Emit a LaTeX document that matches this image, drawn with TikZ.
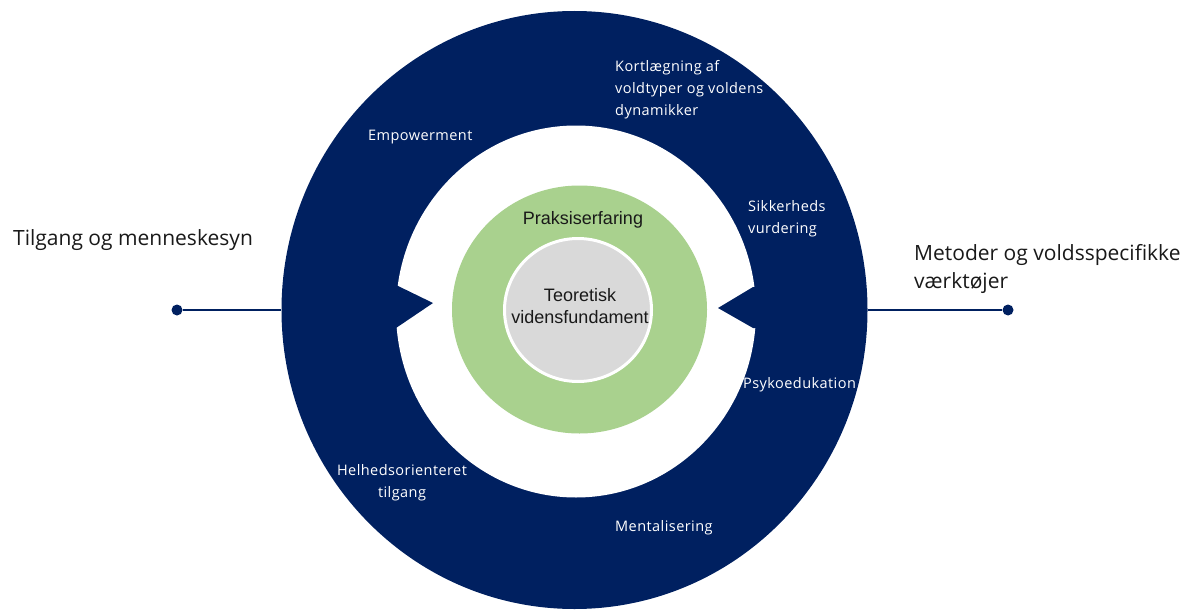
\documentclass[tikz,border=0pt]{standalone}
\usepackage{fontspec}
\setmainfont{Liberation Sans}
\newfontfamily\labfont{Open Sans}
\newfontfamily\ringfont[LetterSpace=3]{Open Sans}
\usetikzlibrary{shapes.geometric}
\definecolor{navy}{RGB}{0,32,96}
\definecolor{lgreen}{RGB}{169,209,142}
\definecolor{lgray}{RGB}{217,217,217}
\definecolor{ink}{RGB}{25,25,25}
\begin{document}
\begin{tikzpicture}[x=1pt,y=-1pt,
  ring/.style={ellipse, inner sep=0pt, draw=none},
  wlab/.style={text=white, font=\ringfont\fontsize{14.5}{22}\selectfont, inner sep=0pt},
  side/.style={text=ink, font=\labfont\fontsize{21}{28.5}\selectfont, align=left, inner sep=0pt},
  core/.style={text=ink, font=\fontsize{18}{22}\selectfont, align=center, inner sep=0pt},
  dot/.style={circle, fill=navy, inner sep=0pt, minimum size=11pt},
  link/.style={draw=navy, line width=2pt}]
\useasboundingbox (0,0) rectangle (1186,610);
% outer navy ring
\node[ring, fill=navy, minimum width=586pt, minimum height=598pt] (outer) at (574.5,310) {};
\node[ring, fill=white, minimum width=360pt, minimum height=372pt] (inner) at (576,311.5) {};
% notches
\fill[navy] (385,285) -- (396,285) -- (433,303) -- (396,328) -- (385,328) -- cycle;
\fill[navy] (765,287) -- (753,287) -- (718,308) -- (753,328) -- (765,328) -- cycle;
% green and gray
\node[ring, fill=lgreen, minimum width=255pt, minimum height=248pt] (green) at (579.5,309.5) {};
\node[ring, fill=lgray, draw=white, line width=3pt, minimum width=147pt, minimum height=143pt] (core) at (578,310) {};
\node[core] (prak) at (583,220) {Praksiserfaring};
\node[core] (teo) at (580,306) {Teoretisk\\vidensfundament};
% connectors
\node[dot] (ldot) at (177,310) {};
\node[dot] (rdot) at (1008,310) {};
\draw[link] (ldot) -- (outer.west);
\draw[link] (outer.east) -- (rdot);
% side labels
\node[side, anchor=west] (tilgang) at (13,240) {Tilgang og menneskesyn};
\node[side, anchor=west] (metoder) at (914,269) {Metoder og voldsspecifikke\\værktøjer};
% ring labels
\node[wlab, anchor=west] (emp) at (368,137) {Empowerment};
\node[wlab, anchor=west, align=left] (kort) at (615,89.5) {Kortlægning af\\voldtyper og voldens\\dynamikker};
\node[wlab, anchor=west, align=left] (sik) at (748,218.5) {Sikkerheds\\vurdering};
\node[wlab, anchor=west] (psy) at (743,385) {Psykoedukation};
\node[wlab, align=center] (hel) at (402,483) {Helhedsorienteret\\tilgang};
\node[wlab, anchor=west] (ment) at (615,528) {Mentalisering};
\end{tikzpicture}
\end{document}
